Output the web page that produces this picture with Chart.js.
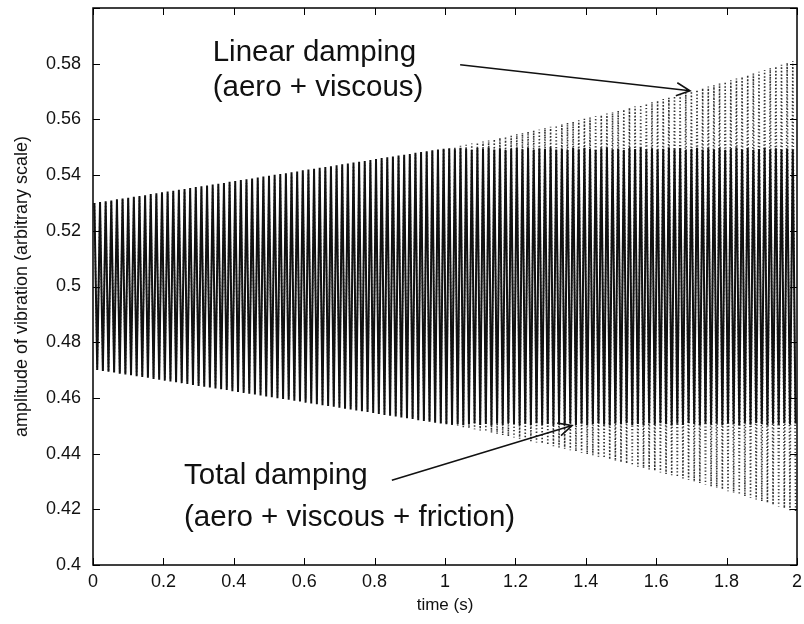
<!DOCTYPE html>
<html><head><meta charset="utf-8">
<script src="https://cdn.jsdelivr.net/npm/chart.js@4.4.1/dist/chart.umd.min.js"></script>
<style>html,body{margin:0;padding:0;background:#fff;}canvas{display:block;}</style>
</head><body>
<canvas id="c" width="804" height="624"></canvas>
<script>
// ---- data ----
// start time of each vibration cycle (ms)
const cycleStartMs = [
0,16,32,48,64,80,96,112,128,144,
160,176,192,208,224,240,256,272,288,304,
320,336,352,368,384,400,416,432,448,464,
480,496,512,528,544,560,576,592,608,624,
640,656,672,688,704,720,736,752,768,784,
800,816,832,848,864,880,896,912,928,944,
960,976,992,1008,1024,1040,1056,1072,1088,1104,
1120,1136,1152,1168,1184,1200,1216,1232,1248,1264,
1280,1296,1312,1328,1344,1360,1376,1392,1408,1424,
1440,1456,1472,1488,1504,1520,1536,1552,1568,1584,
1600,1616,1632,1648,1664,1680,1696,1712,1728,1744,
1760,1776,1792,1808,1824,1840,1856,1872,1888,1904,
1920,1936,1952,1968,1984];
// amplitude per cycle, total damping (solid)
const totalAmp = [
.0300,.0303,.0306,.0309,.0313,.0316,.0319,.0322,.0325,.0328,
.0332,.0335,.0338,.0341,.0344,.0347,.0350,.0354,.0357,.0360,
.0363,.0366,.0369,.0372,.0376,.0379,.0382,.0385,.0388,.0391,
.0395,.0398,.0401,.0404,.0407,.0410,.0413,.0417,.0420,.0423,
.0426,.0429,.0432,.0435,.0439,.0442,.0445,.0448,.0451,.0454,
.0458,.0461,.0464,.0467,.0470,.0473,.0476,.0480,.0483,.0486,
.0489,.0492,.0495,.0496,.0493,.0498,.0495,.0491,.0497,.0494,
.0499,.0492,.0496,.0490,.0495,.0498,.0493,.0497,.0491,.0496,
.0494,.0499,.0492,.0495,.0490,.0497,.0493,.0498,.0494,.0491,
.0496,.0499,.0493,.0495,.0490,.0497,.0494,.0498,.0492,.0496,
.0491,.0495,.0499,.0493,.0497,.0490,.0494,.0498,.0492,.0496,
.0493,.0497,.0491,.0495,.0499,.0492,.0496,.0490,.0494,.0498,
.0493,.0496,.0491,.0495,.0492];
// amplitude per cycle, linear damping (dotted)
const linearAmp = [
.0300,.0302,.0305,.0307,.0310,.0312,.0315,.0317,.0320,.0322,
.0325,.0328,.0330,.0333,.0336,.0338,.0341,.0344,.0347,.0349,
.0352,.0355,.0358,.0361,.0364,.0366,.0369,.0372,.0375,.0378,
.0381,.0384,.0388,.0391,.0394,.0397,.0400,.0403,.0407,.0410,
.0413,.0417,.0420,.0423,.0427,.0430,.0434,.0437,.0441,.0444,
.0448,.0451,.0455,.0458,.0462,.0466,.0470,.0473,.0477,.0481,
.0485,.0489,.0493,.0497,.0501,.0505,.0509,.0513,.0517,.0521,
.0525,.0529,.0534,.0538,.0542,.0547,.0551,.0556,.0560,.0564,
.0569,.0574,.0578,.0583,.0588,.0592,.0597,.0602,.0607,.0611,
.0616,.0621,.0626,.0631,.0636,.0642,.0647,.0652,.0657,.0662,
.0668,.0673,.0678,.0684,.0689,.0695,.0701,.0706,.0712,.0718,
.0723,.0729,.0735,.0741,.0747,.0753,.0759,.0765,.0771,.0777,
.0784,.0790,.0796,.0803,.0809];
const equilibrium = 0.5;
const xTicks = [0,0.2,0.4,0.6,0.8,1,1.2,1.4,1.6,1.8,2];
const xTickLabels = ['0','0.2','0.4','0.6','0.8','1','1.2','1.4','1.6','1.8','2'];
const yTicks = [0.4,0.42,0.44,0.46,0.48,0.5,0.52,0.54,0.56,0.58,0.6];
const yTickLabels = ['0.4','0.42','0.44','0.46','0.48','0.5','0.52','0.54','0.56','0.58',''];
const xTitle = 'time (s)';
const yTitle = 'amplitude of vibration (arbitrary scale)';
// annotation texts, placed in data units (left edge, baseline)
const notes = [
  {text:'Linear damping', x:0.340, y:0.5810},
  {text:'(aero + viscous)', x:0.340, y:0.5685},
  {text:'Total damping', x:0.2585, y:0.4290},
  {text:'(aero + viscous + friction)', x:0.2585, y:0.4140}
];
const arrows = [
  {x0:1.043, y0:0.5796, x1:1.696, y1:0.5703},
  {x0:0.849, y0:0.4304, x1:1.361, y1:0.4501}
];

// ---- build turning points ----
const periodMs = cycleStartMs[1] - cycleStartMs[0];
function turningPoints(amp){
  const pts = [];
  cycleStartMs.forEach((t,i)=>{
    pts.push({x:(t + periodMs/4)/1000, y:equilibrium + amp[i]});
    pts.push({x:(t + 3*periodMs/4)/1000, y:equilibrium - amp[i]});
  });
  return pts;
}

const FONT = '"Liberation Sans", Arial, Helvetica, sans-serif';
Chart.defaults.font.family = FONT;
Chart.defaults.color = '#111';

const framePlugin = {
  id:'frame',
  afterDatasetsDraw(chart){
    const {ctx, chartArea:a, scales:{x,y}} = chart;
    ctx.save();
    ctx.strokeStyle = '#000';
    ctx.lineWidth = 1;
    const L = 7;
    ctx.beginPath();
    xTicks.forEach(v=>{
      const px = Math.round(x.getPixelForValue(v))+0.5;
      ctx.moveTo(px, a.bottom); ctx.lineTo(px, a.bottom-L);
      ctx.moveTo(px, a.top); ctx.lineTo(px, a.top+L);
    });
    yTicks.forEach(v=>{
      const py = Math.round(y.getPixelForValue(v))+0.5;
      ctx.moveTo(a.left, py); ctx.lineTo(a.left+L, py);
      ctx.moveTo(a.right, py); ctx.lineTo(a.right-L, py);
    });
    ctx.stroke();
    ctx.lineWidth = 1.5;
    ctx.strokeRect(a.left, a.top, a.right-a.left, a.bottom-a.top);
    // annotations
    ctx.fillStyle = '#111';
    ctx.font = '29.5px ' + FONT;
    ctx.textBaseline = 'alphabetic';
    ctx.textAlign = 'left';
    notes.forEach(n=>ctx.fillText(n.text, x.getPixelForValue(n.x), y.getPixelForValue(n.y)));
    ctx.lineWidth = 1.6;
    ctx.strokeStyle = '#111';
    arrows.forEach(r=>{
      const x0=x.getPixelForValue(r.x0), y0=y.getPixelForValue(r.y0);
      const x1=x.getPixelForValue(r.x1), y1=y.getPixelForValue(r.y1);
      const ang = Math.atan2(y1-y0, x1-x0), h=15, w=0.45;
      ctx.beginPath();
      ctx.moveTo(x0,y0); ctx.lineTo(x1,y1);
      ctx.moveTo(x1-h*Math.cos(ang-w), y1-h*Math.sin(ang-w));
      ctx.lineTo(x1,y1);
      ctx.lineTo(x1-h*Math.cos(ang+w), y1-h*Math.sin(ang+w));
      ctx.stroke();
    });
    ctx.restore();
  }
};

new Chart(document.getElementById('c'), {
  type:'line',
  data:{datasets:[
    {label:'Total damping', data:turningPoints(totalAmp), borderColor:'#111', borderWidth:2.0, pointRadius:0, tension:0, order:0},
    {label:'Linear damping', data:turningPoints(linearAmp), borderColor:'#333', borderWidth:1.6, borderDash:[1.2,2.2], pointRadius:0, tension:0, order:1}
  ]},
  options:{
    responsive:false, animation:false, events:[],
    layout:{padding:{left:0, top:8, right:7, bottom:0}},
    plugins:{legend:{display:false}, tooltip:{enabled:false}},
    scales:{
      x:{type:'linear', min:0, max:2,
        afterBuildTicks:s=>{s.ticks = xTicks.map(v=>({value:v}));},
        afterFit:s=>{s.height = 59; s.paddingLeft = 0; s.paddingRight = 0;},
        grid:{display:false, drawTicks:false},
        border:{display:false},
        ticks:{padding:6, font:{size:18}, color:'#111', maxRotation:0, autoSkip:false,
          callback:(v,i)=>xTickLabels[i]},
        title:{display:true, text:xTitle, font:{size:17}, color:'#111', padding:{top:2,bottom:8}}
      },
      y:{type:'linear', min:0.4, max:0.6,
        afterBuildTicks:s=>{s.ticks = yTicks.map(v=>({value:v}));},
        afterFit:s=>{s.width = 93; s.paddingTop = 0; s.paddingBottom = 0;},
        grid:{display:false, drawTicks:false},
        border:{display:false},
        ticks:{padding:12, font:{size:18}, color:'#111', autoSkip:false,
          callback:(v,i)=>yTickLabels[i]},
        title:{display:true, text:yTitle, font:{size:18}, color:'#111', padding:{top:11,bottom:0}}
      }
    }
  },
  plugins:[framePlugin]
});
</script>
</body></html>
